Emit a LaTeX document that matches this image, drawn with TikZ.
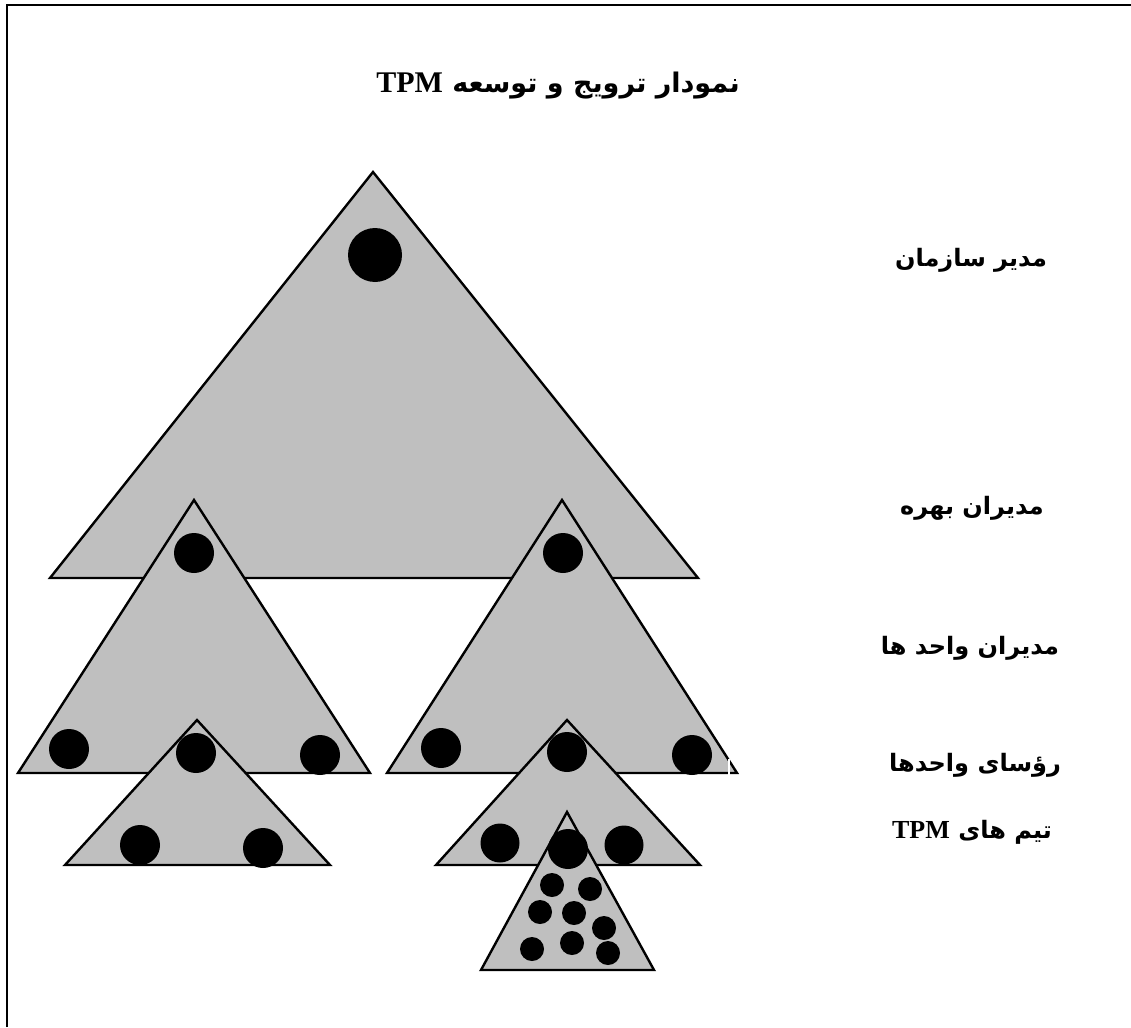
\documentclass[tikz,border=0pt]{standalone}
\usepackage{fontspec}
\setmainfont{Liberation Serif}
\newfontfamily\arabicfont[Script=Arabic]{DejaVu Sans}
\TeXXeTstate=1
\begin{document}
\begin{tikzpicture}[x=1pt,y=-1pt,
  tri/.style={draw=black, line width=2.4pt, fill=black!25, line join=miter},
  dot/.style={circle, fill=black, draw=none, inner sep=0pt, minimum size=#1},
  lbl/.style={font=\arabicfont\bfseries\fontsize{24}{28}\selectfont, inner sep=0pt},
  frame/.style={line width=2.6pt, black}]
\useasboundingbox (0,0) rectangle (1131,1027);
% frame (only top and left edges visible)
\coordinate (fTL) at (7,5);
\coordinate (fTR) at (1131,5);
\coordinate (fBL) at (7,1027);
\draw[frame] (fBL) -- (fTL) -- (fTR);
% title
\node[lbl, font=\arabicfont\bfseries\fontsize{27}{31}\selectfont] (title) at (558,86)
  {\beginR نمودار ترویج و توسعه \beginL{\rmfamily\bfseries\fontsize{30}{31}\selectfont TPM}\endL\endR};
% big triangle
\draw[tri] (373,172) -- (698,578) -- (50,578) -- cycle;
% middle triangles
\draw[tri] (194,500) -- (370,773) -- (18,773) -- cycle;
\draw[tri] (562,500) -- (737,773) -- (387,773) -- cycle;
\coordinate (gapT) at (729,759);
\coordinate (gapB) at (729,775);
\draw[white, line width=1.5pt] (gapT) -- (gapB);
% small triangles
\draw[tri] (197,720) -- (330,865) -- (65,865) -- cycle;
\draw[tri] (567,720) -- (700,865) -- (436,865) -- cycle;
% tiny triangle
\draw[tri] (567,812) -- (654,970) -- (481,970) -- cycle;
% circles
\node[dot=54] (d0) at (375,255) {};
\node[dot=40] (dL) at (194,553) {};
\node[dot=40] (dR) at (563,553) {};
\node[dot=40] (dL1) at (69,749) {};
\node[dot=40] (dL2) at (196,753) {};
\node[dot=40] (dL3) at (320,755) {};
\node[dot=40] (dR1) at (441,748) {};
\node[dot=40] (dR2) at (567,752) {};
\node[dot=40] (dR3) at (692,755) {};
\node[dot=40] (sL1) at (140,845) {};
\node[dot=40] (sL2) at (263,848) {};
\node[dot=39] (sR1) at (500,843) {};
\node[dot=40] (sR2) at (568,849) {};
\node[dot=39] (sR3) at (624,845) {};
\node[dot=24] (t1) at (552,885) {};
\node[dot=24] (t2) at (590,889) {};
\node[dot=24] (t3) at (540,912) {};
\node[dot=24] (t4) at (574,913) {};
\node[dot=24] (t5) at (604,928) {};
\node[dot=24] (t6) at (532,949) {};
\node[dot=24] (t7) at (572,943) {};
\node[dot=24] (t8) at (608,953) {};
% labels
\node[lbl] (l1) at (971,260) {\beginR مدیر سازمان\endR};
\node[lbl] (l2) at (972,508) {\beginR مدیران بهره\endR};
\node[lbl] (l3) at (970,648) {\beginR مدیران واحد ها\endR};
\node[lbl] (l4) at (975,765) {\beginR رؤسای واحدها\endR};
\node[lbl] (l5) at (972,832) {\beginR تیم های \beginL{\rmfamily\bfseries\fontsize{26}{28}\selectfont TPM}\endL\endR};
\end{tikzpicture}
\end{document}
